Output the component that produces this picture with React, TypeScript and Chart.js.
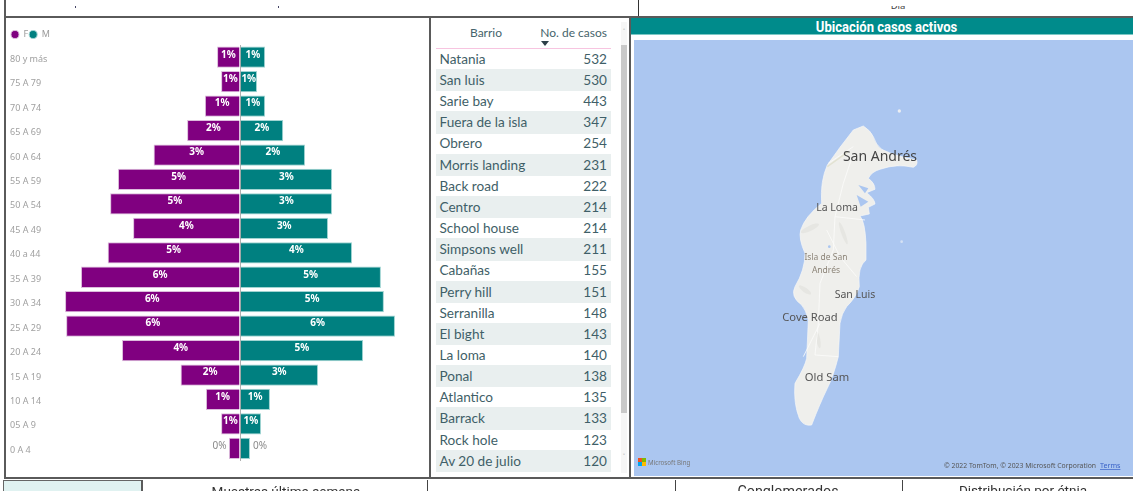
import React, { useEffect, useRef } from "react";
import { Chart, registerables } from "chart.js";

Chart.register(...registerables);

const ageGroups = ["80 y más","75 A 79","70 A 74","65 A 69","60 A 64","55 A 59","50 A 54","45 A 49","40 a 44","35 A 39","30 A 34","25 A 29","20 A 24","15 A 19","10 A 14","05 A 9","0 A 4"];
const femalePct = [-0.85,-0.7,-1.3,-1.96,-3.2,-4.52,-4.81,-3.96,-4.9,-5.89,-6.48,-6.44,-4.37,-2.2,-1.26,-0.7,-0.41];
const malePct = [0.93,0.63,0.93,1.6,2.41,3.41,3.41,3.26,4.15,5.22,5.33,5.74,4.56,2.89,1.11,0.78,0.37];
const barrios = ["Natania","San luis","Sarie bay","Fuera de la isla","Obrero","Morris landing","Back road","Centro","School house","Simpsons well","Cabañas","Perry hill","Serranilla","El bight","La loma","Ponal","Atlantico","Barrack","Rock hole","Av 20 de julio"];
const casos = [532,530,443,347,254,231,222,214,214,211,155,151,148,143,140,138,135,133,123,120];

const FONT = '"Noto Sans", "Open Sans", sans-serif';
const TABLE_FONT = 'Lato, "Noto Sans", sans-serif';

const barLabels = {
  id: "barLabels",
  afterDatasetsDraw(chart: any) {
    const { ctx } = chart;
    ctx.save();
    ctx.textBaseline = "middle";
    ctx.textAlign = "center";
    chart.data.datasets.forEach((ds: any, di: number) => {
      chart.getDatasetMeta(di).data.forEach((bar: any, i: number) => {
        const v = Math.abs(ds.data[i]);
        const text = Math.round(v) + "%";
        const y = bar.y - 2.5;
        if (v < 0.5) {
          ctx.fillStyle = "#8a8a8a";
          ctx.font = `400 10px ${FONT}`;
          ctx.fillText(text, di === 0 ? bar.x - 9.5 : bar.x + 10, y);
        } else {
          ctx.fillStyle = "#ffffff";
          ctx.font = `700 10px ${FONT}`;
          ctx.fillText(text, (bar.x + bar.base) / 2, y);
        }
      });
    });
    ctx.restore();
  },
};

// The library leaves a few spare pixels under the legend; take them back so the rows start higher.
const tightLegend = {
  id: "tightLegend",
  beforeLayout(chart: any) {
    const legend = chart.legend;
    if (legend && !legend.__tight) {
      const fit = legend.fit;
      legend.fit = function () {
        fit.call(this);
        this.height -= 4;
      };
      legend.__tight = true;
    }
  },
};

const abs = (left: number, top: number, width: number, height: number, extra: React.CSSProperties = {}): React.CSSProperties => ({
  position: "absolute", left, top, width, height, ...extra,
});

const LINE = "#5a5a5a";

export default function App() {
  const ref = useRef<HTMLCanvasElement>(null);
  useEffect(() => {
    const chart = new Chart(ref.current!, {
      type: "bar",
      plugins: [barLabels, tightLegend],
      data: {
        labels: ageGroups,
        datasets: [
          { label: "F", data: femalePct, backgroundColor: "#800080", borderColor: "#dcbcdc", borderWidth: 1, barPercentage: 0.87, categoryPercentage: 1 },
          { label: "M", data: malePct, backgroundColor: "#008080", borderColor: "#a0d4d2", borderWidth: 1, barPercentage: 0.87, categoryPercentage: 1 },
        ],
      },
      options: {
        indexAxis: "y",
        animation: false,
        responsive: false,
        layout: { padding: { left: 5, top: 1, right: 0, bottom: 0 } },
        plugins: {
          tooltip: { enabled: false },
          legend: {
            display: true,
            position: "top",
            align: "start",
            onClick: () => {},
            labels: {
              usePointStyle: true,
              pointStyle: "circle",
              pointStyleWidth: 8,
              boxHeight: 5.7,
              padding: 1,
              color: "#9a9a9a",
              font: { family: FONT, size: 9 },
            },
          },
        },
        scales: {
          x: {
            stacked: true,
            min: -7,
            max: 7,
            border: { display: false },
            ticks: { display: false, stepSize: 7 },
            grid: { z: 1, drawTicks: false, lineWidth: 1, color: (c: any) => (c.tick && c.tick.value === 0 ? "rgba(150,150,150,0.75)" : "rgba(0,0,0,0)") },
          },
          y: {
            stacked: true,
            border: { display: false },
            grid: { display: false, drawTicks: false },
            afterFit: (s: any) => { s.width = 41; },
            ticks: { autoSkip: false, crossAlign: "far", labelOffset: 2, color: "#a0a0a0", font: { family: FONT, size: 9 } },
          },
        },
      },
    } as any);
    return () => chart.destroy();
  }, []);

  const rowH = 21.15;
  const bottomHead: React.CSSProperties = { textAlign: "center", fontFamily: "Roboto", color: "#333", lineHeight: "16px", whiteSpace: "nowrap" };
  return (
    <div style={{ position: "relative", width: 1133, height: 491, overflow: "hidden", background: "#fff", fontFamily: FONT, filter: "blur(0.35px)" }}>
      <style>{"body{margin:0;background:#fff}"}</style>

      {/* frame */}
      <div style={abs(4, 0, 2, 478, { background: LINE })} />
      <div style={abs(4, 16, 1129, 2, { background: LINE })} />
      <div style={abs(4, 477, 1129, 2, { background: LINE })} />
      <div style={abs(429, 16, 2, 462, { background: LINE })} />
      <div style={abs(629, 16, 2, 462, { background: LINE })} />
      <div style={abs(638, 0, 1, 16, { background: "#333" })} />
      <div style={abs(75, 6, 1, 2, { background: "#446" })} />
      <div style={abs(278, 6, 1, 2, { background: "#446" })} />
      <div style={abs(880, 6, 36, 6, { overflow: "hidden" })}>
        <div style={abs(0, -7, 36, 14, { fontSize: 9.5, textAlign: "center", color: "#444", lineHeight: "14px" })}>Día</div>
      </div>

      {/* pyramid */}
      <canvas ref={ref} width={424} height={441} style={abs(5, 28, 424, 441, { display: "block" })} />

      {/* table */}
      <div style={abs(466, 24, 40, 18, { fontFamily: TABLE_FONT, fontSize: 12, color: "#46646c", textAlign: "center", lineHeight: "18px" })}>Barrio</div>
      <div style={abs(530, 24, 77, 18, { fontFamily: TABLE_FONT, fontSize: 12, color: "#46646c", textAlign: "right", lineHeight: "18px", whiteSpace: "nowrap" })}>No. de casos</div>
      <div style={{ position: "absolute", left: 541, top: 41, width: 0, height: 0, borderLeft: "4px solid transparent", borderRight: "4px solid transparent", borderTop: "5px solid #2d3f48" }} />
      <div style={abs(436, 48, 175, 1, { background: "#f7c4e0" })} />
      {barrios.map((b, i) => (
        <div key={b} style={abs(436, 47.85 + rowH * i, 175, 22.4, { background: i % 2 ? "#e9efef" : "transparent", color: "#3f5f68", fontFamily: TABLE_FONT, fontSize: 13.6, lineHeight: "22.3px" })}>
          <span style={{ position: "absolute", left: 3.5 }}>{b}</span>
          <span style={{ position: "absolute", right: 4 }}>{casos[i]}</span>
        </div>
      ))}
      <div style={abs(621, 22, 6, 451, { background: "#f6f6f6" })} />
      <div style={abs(621, 45, 6, 368, { background: "#c9c9c9" })} />
      <div style={abs(619, 27, 10, 10, { fontSize: 7, color: "#888", textAlign: "center", lineHeight: "10px" })}>˄</div>
      <div style={abs(619, 452, 10, 10, { fontSize: 7, color: "#888", textAlign: "center", lineHeight: "10px" })}>˅</div>

      {/* map */}
      <div style={abs(631, 18, 502, 16, { background: "#008b8b", color: "#fff", textAlign: "center", fontFamily: "Roboto", fontWeight: 700, lineHeight: "17px", boxSizing: "border-box", paddingLeft: 10 })}>
        <span style={{ display: "inline-block", fontSize: 14.5, transform: "scaleX(0.9)", whiteSpace: "nowrap" }}>Ubicación casos activos</span>
      </div>
      <div style={abs(631, 34, 502, 1, { background: "#7cc8c4" })} />
      <div style={abs(634, 40, 499, 436, { background: "#abc6f0" })} />
      <svg style={abs(0, 0, 1133, 491)} width={1133} height={491}>
        <g transform="translate(740 110) scale(0.3333)">
          <path fill="#efefec" stroke="#f8f8f6" strokeWidth="2" strokeLinejoin="round" d="M370 48 Q392 62 400 80 Q408 105 425 118 Q470 140 530 150 Q535 165 520 172 Q470 160 420 178 Q395 185 385 205 Q405 220 405 238 L380 248 Q405 268 405 282 L385 292 L388 312 L360 318 Q375 335 378 400 L378 450 Q352 470 358 530 Q350 560 320 590 Q305 610 300 640 L295 740 Q280 800 262 835 Q240 880 215 945 Q190 950 178 925 Q160 880 165 820 Q195 770 200 745 L205 630 Q198 600 185 585 Q150 560 165 530 Q195 480 195 430 Q175 385 182 360 Q195 320 245 280 Q240 215 262 165 Q300 110 340 60 Z" />
          <g fill="#e6e6e2">
            <ellipse cx="210" cy="355" rx="30" ry="8" transform="rotate(-25 210 355)" />
            <ellipse cx="235" cy="690" rx="25" ry="6" transform="rotate(80 235 690)" />
            <ellipse cx="195" cy="540" rx="22" ry="7" transform="rotate(35 195 540)" />
            <ellipse cx="310" cy="370" rx="35" ry="6" transform="rotate(70 310 370)" />
          </g>
          <g fill="none" stroke="#fbfbfa" strokeWidth="2.5">
            <path d="M340 130 L310 220 L285 320 L280 420 L240 520 L235 640 L225 735 L295 740" />
            <path d="M285 320 L375 330 M260 360 L300 440 L350 500 M190 740 L240 640 M265 160 L340 110" />
          </g>
          <path d="M355 225 L385 235 L375 250 Z M350 255 L385 275 L362 290 Z" fill="#abc6f0" />
          <path d="M262 170 L325 125" stroke="#e2e2d2" strokeWidth="4" />
          <circle cx="268" cy="410" r="4" fill="#abc6f0" />
          <circle cx="485" cy="395" r="4" fill="#d6e2f4" />
          <circle cx="478" cy="3" r="5" fill="#eceef2" />
        </g>
        <g textAnchor="middle" fontFamily={FONT}>
          <text x={880} y={161} fontSize={14} fill="#444">San Andrés</text>
          <text x={837} y={211} fontSize={10.5} fill="#555">La Loma</text>
          <text x={826} y={260} fontSize={8.5} fill="#8c8478">Isla de San</text>
          <text x={826} y={273} fontSize={8.5} fill="#8c8478">Andrés</text>
          <text x={855} y={298} fontSize={10.5} fill="#555">San Luis</text>
          <text x={810} y={321} fontSize={11.2} fill="#555">Cove Road</text>
          <text x={827} y={381} fontSize={11.2} fill="#555">Old Sam</text>
        </g>
        <rect x={638} y={458} width={4} height={4} fill="#f25022" />
        <rect x={642} y={458} width={4} height={4} fill="#7fba00" />
        <rect x={638} y={462} width={4} height={4} fill="#00a4ef" />
        <rect x={642} y={462} width={4} height={4} fill="#ffb900" />
        <text x={648} y={465} fontSize={6.2} fill="#777" fontFamily={FONT}>Microsoft Bing</text>
        <text x={944} y={468} fontSize={6.85} fill="#555" fontFamily={FONT}>© 2022 TomTom, © 2023 Microsoft Corporation</text>
        <text x={1100} y={468} fontSize={7.1} fill="#3a63c8" textDecoration="underline" fontFamily={FONT}>Terms</text>
      </svg>

      {/* lower row */}
      <div style={abs(3, 480, 137, 11, { background: "#e0f2f1", borderLeft: "1px solid #666", borderTop: "1px solid #666" })} />
      <div style={abs(141, 480, 2, 11, { background: LINE })} />
      <div style={abs(427, 480, 1, 11, { background: "#444" })} />
      <div style={abs(675, 480, 1, 11, { background: "#444" })} />
      <div style={abs(902, 480, 1, 11, { background: "#444" })} />
      <div style={abs(143, 483, 286, 16, { ...bottomHead, fontSize: 13.5 })}>Muestras última semana</div>
      <div style={abs(676, 483, 224, 16, { ...bottomHead, fontSize: 14.3 })}>Conglomerados</div>
      <div style={abs(908, 482, 230, 16, { ...bottomHead, fontSize: 13.5 })}>Distribución por étnia</div>
    </div>
  );
}
